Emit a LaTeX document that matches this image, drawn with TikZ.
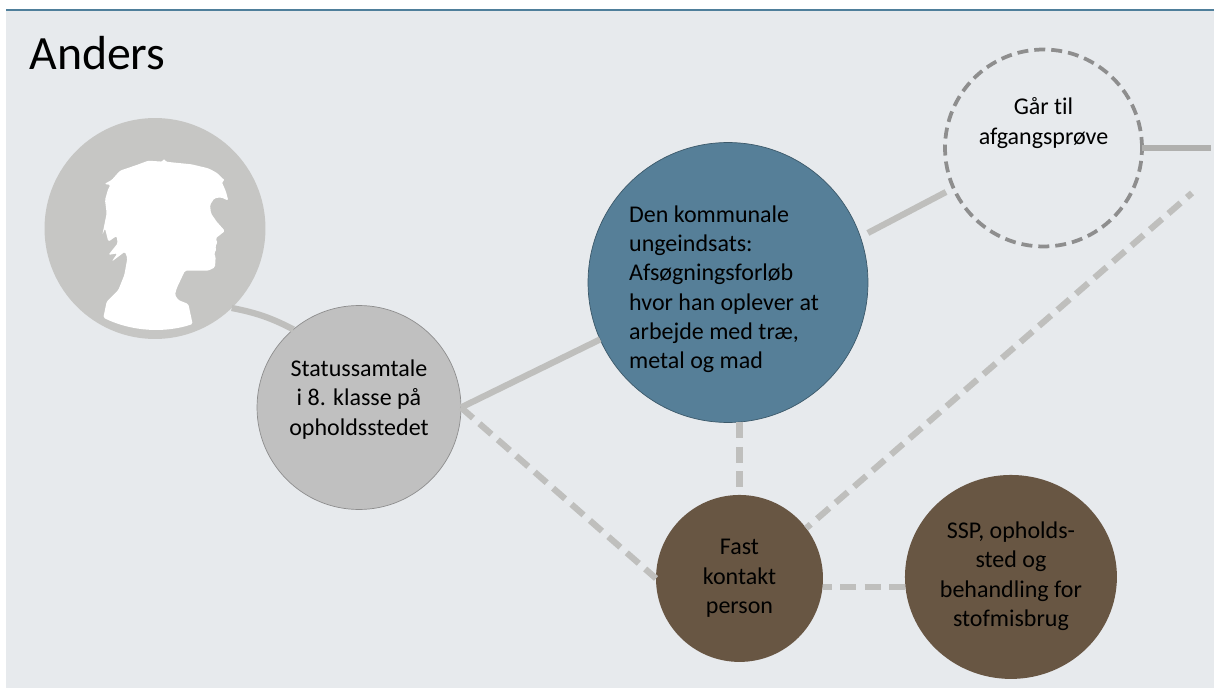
\documentclass[tikz,border=0pt]{standalone}
\usepackage{fontspec}
\setmainfont[Ligatures=NoCommon]{Carlito}
\usetikzlibrary{shapes.geometric}
\definecolor{panelgray}{HTML}{E7EAED}
\definecolor{rulecol}{HTML}{4F7F9B}
\definecolor{persongray}{HTML}{C6C6C4}
\definecolor{statgray}{HTML}{C0C0C0}
\definecolor{ungblue}{HTML}{567F98}
\definecolor{brown}{HTML}{685643}
\definecolor{linegray}{HTML}{BFBFBD}
\definecolor{ringgray}{HTML}{8E8E8E}
\tikzset{
	main/.style = {circle, inner sep=0pt, outer sep=0pt, align=center, font=\fontsize{13.66}{16.7}\selectfont},
	solidline/.style = {draw=linegray, line width=0.125cm},
	dashline/.style = {solidline, dash pattern=on 0.32cm off 0.17cm},
}
\begin{document}
\begin{tikzpicture}[x=0.02cm, y=-0.02cm, node distance={5.92cm}]
		\useasboundingbox (0,0) rectangle (1214,689);
		\fill[panelgray] (6,10) rectangle (1214,688);
		\draw[rulecol, line width=0.04cm] (6,10) -- (1214,10);
		\node[anchor=base west, inner sep=0pt, font=\fontsize{27.2}{32}\selectfont] (title) at (29,70) {Anders};
		\node[main, fill=persongray, minimum size=4.42cm] (person) at (155,228.5) {};
		\node[main, fill=statgray, draw=ringgray, line width=0.4pt, minimum size=4.08cm] (stat) at (359,407.5) {Statussamtale\\ i 8. klasse på\\ opholdsstedet\\[-5.3pt]\mbox{}};
		\node[main, fill=ungblue, draw=ungblue!70!black, line width=0.4pt, minimum size=5.6cm, align=left] (ung) at (728,282.5) {\hspace*{-0.16cm}\mbox{}\\[0.6pt]\hspace*{-0.16cm}Den kommunale\\ \hspace*{-0.16cm}ungeindsats:\\ \hspace*{-0.16cm}Afsøgningsforløb\\ \hspace*{-0.16cm}hvor han oplever at\\ \hspace*{-0.16cm}arbejde med træ,\\ \hspace*{-0.16cm}metal og mad};
		\node[main, fill=brown, minimum size=3.34cm] (fast) [below of=ung, xshift=0.23cm] {Fast\\ kontakt\\ person};
		\node[main, ellipse, fill=brown, minimum width=4.24cm, minimum height=4.08cm] (ssp) [right of=fast, node distance=5.43cm, yshift=0.03cm] {\mbox{}\\[-8pt]SSP, opholds-\\ sted og\\ behandling for\\ stofmisbrug};
		\node[main, draw=ringgray, line width=0.075cm, dash pattern=on 0.22cm off 0.12cm, minimum size=3.94cm] (gar) at (1043.5,148) {Går til\\ afgangsprøve\\[14pt]\mbox{}};
		\coordinate (garend) at (1211,147.7);
		\coordinate (dashend) at (1192,193);
		\fill[white, rounded corners=0.03cm, shift={(95,150)}, x=0.00667cm, y=-0.00667cm] (25,503) .. controls (110,545) and (210,550) .. (293,522) -- (280,462) -- (250,450) -- (240,435) -- (245,415) -- (270,362) -- (340,362) -- (360,352) -- (362,320) -- (357,310) -- (365,298) -- (360,288) -- (368,280) -- (362,265) -- (390,243) -- (365,215) -- (348,190) -- (345,165) -- (358,145) -- (378,142) -- (400,152) -- (393,125) -- (380,95) -- (390,92) -- (365,68) -- (340,55) -- (290,43) -- (240,38) -- (212,35) -- (207,25) -- (203,35) -- (160,32) -- (125,45) -- (75,62) -- (50,90) -- (28,102) -- (47,105) -- (40,115) -- (30,150) -- (35,190) -- (28,225) -- (22,255) -- (30,235) -- (40,275) -- (65,258) -- (68,280) -- (40,315) -- (67,310) -- (50,335) -- (90,305) -- (97,325) -- (88,375) -- (70,420) -- (35,455) -- cycle;
		\draw[solidline] (person.-46) to[bend left=8] (stat.130);
		\draw[solidline] (stat.east) -- (ung.204);
		\draw[solidline, shorten <=0.17cm, shorten >=0.17cm] (ung.19) -- (gar.204);
		\draw[solidline, draw=linegray!92!black] (gar.east) -- (gar.east -| garend);
		\draw[dashline] (stat.east) -- (fast.west);
		\draw[dashline] (fast.north |- ung.south) -- (fast.north);
		\draw[dashline, dash phase=0.2cm] (fast.37) -- (dashend);
		\draw[dashline, dash phase=0.14cm] (fast.-6) -- (fast.-6 -| ssp.west);
	\end{tikzpicture}
\end{document}
